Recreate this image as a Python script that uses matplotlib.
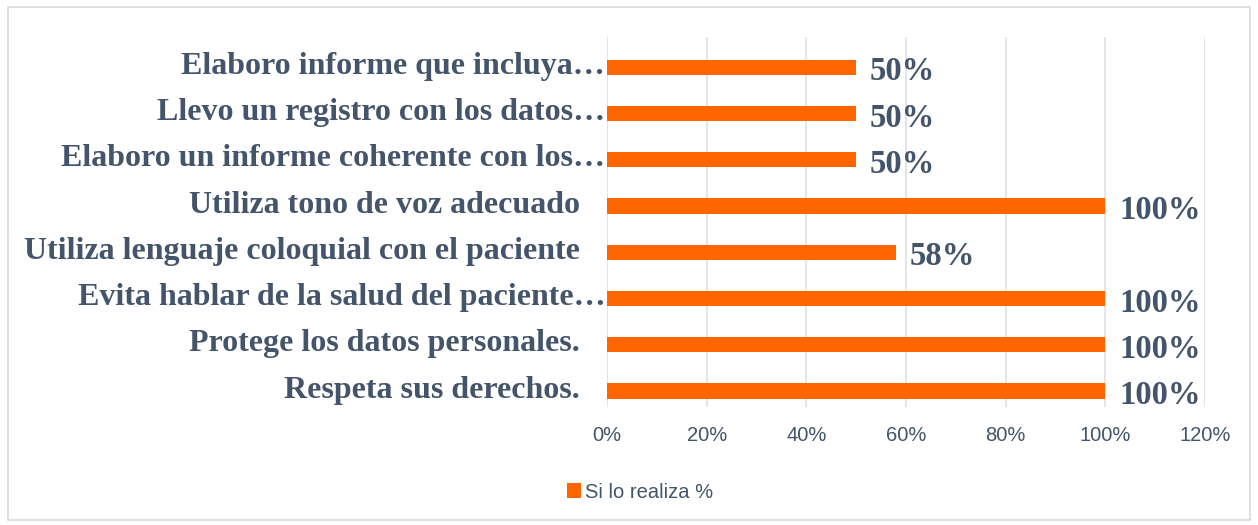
import matplotlib
matplotlib.use("Agg")
import matplotlib.pyplot as plt
import matplotlib.transforms as mtransforms
from matplotlib.patches import Rectangle

# datos (de abajo hacia arriba, como en el gráfico)
categorias = ["Respeta sus derechos.",
              "Protege los datos personales.",
              "Evita hablar de la salud del paciente…",
              "Utiliza lenguaje coloquial con el paciente",
              "Utiliza tono de voz adecuado",
              "Elaboro un informe coherente con los…",
              "Llevo un registro con los datos…",
              "Elaboro informe que incluya…"]
si_realiza = [100, 100, 100, 58, 100, 50, 50, 50]
serie = "Si lo realiza %"
ticks_x = [0, 20, 40, 60, 80, 100, 120]

NARANJA = "#FF6600"
TEXTO = "#44546A"
SERIF = ["Liberation Serif", "DejaVu Serif"]
SANS = ["Liberation Sans Narrow", "Liberation Sans", "DejaVu Sans"]

fig = plt.figure(figsize=(12.58, 5.25), dpi=100)
fig.patches.append(Rectangle((8 / 1258, 5 / 525), 1242 / 1258, 513 / 525,
                             transform=fig.transFigure, fill=False,
                             edgecolor="#D9D9D9", lw=1.2))
ax = fig.add_axes([607 / 1258, 1 - 407 / 525, 598 / 1258, 370 / 525])

y = list(range(len(categorias)))
ax.barh(y, si_realiza, height=0.33, color=NARANJA, label=serie, zorder=3)
ax.set_xlim(0, 120)
ax.set_ylim(-0.346, 7.654)
ax.set_xticks(ticks_x)
ax.set_xticklabels([f"{t}%" for t in ticks_x], family=SANS, fontsize=14.5, color=TEXTO)
ax.tick_params(axis="x", length=0, pad=14)
ax.set_yticks([])
ax.grid(axis="x", color="#DDE1E8", lw=1.2, zorder=0)
for s in ax.spines.values():
    s.set_visible(False)

# etiquetas de categoría: el texto truncado llega hasta el eje
trans = mtransforms.blended_transform_factory(ax.transAxes, ax.transData)
for yi, cat in zip(y, categorias):
    dx = -0.003 if cat.endswith("…") else -0.045
    ax.text(dx, yi + 0.02, cat, transform=trans, ha="right", va="center",
            family=SERIF, fontweight="bold", fontsize=23, color=TEXTO)

for yi, v in zip(y, si_realiza):
    ax.text(v + 2.8, yi - 0.1, f"{v}%", ha="left", va="center",
            family=SERIF, fontweight="bold", fontsize=23.5, color=TEXTO)

leg = fig.legend(loc="center", bbox_to_anchor=(640 / 1258, 1 - 492 / 525),
                 frameon=False, handlelength=0.7, handleheight=0.7,
                 handletextpad=0.2, prop={"family": SANS, "size": 14.5})
for t in leg.get_texts():
    t.set_color(TEXTO)

fig.savefig("out.png", dpi=100)
